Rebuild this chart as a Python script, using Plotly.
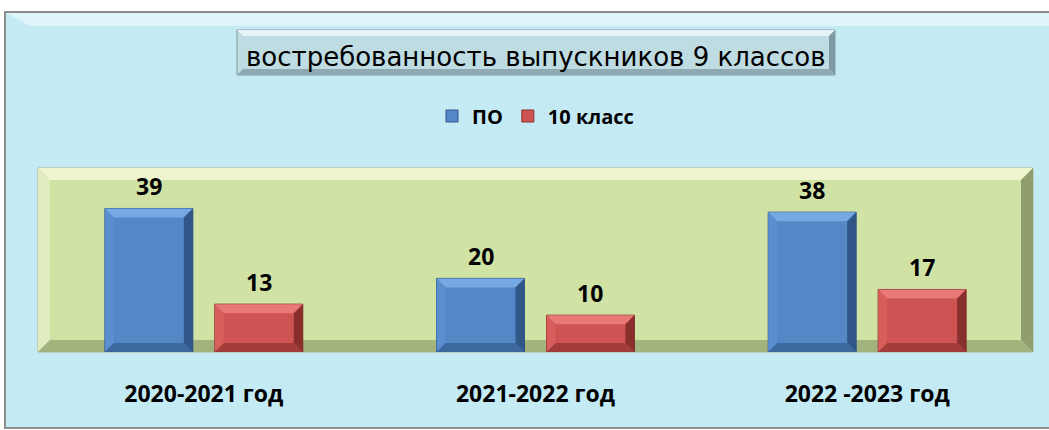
import plotly.graph_objects as go

categories = ["2020-2021 год", "2021-2022 год", "2022 -2023 год"]
series_names = ["ПО", "10 класс"]
po_values = [39, 20, 38]
class10_values = [13, 10, 17]
title_text = "востребованность выпускников 9 классов"

W, H = 1049, 430
L, R, T, B = 38, 16, 168, 78
PW, PH = W - L - R, H - T - B
YMAX = 50
BARGAP, GROUPGAP = 0.337, 0.2

def px(x):
    return (x - L) / PW

def py(y):
    return (H - B - y) / PH

fig = go.Figure()
fig.add_trace(go.Bar(name=series_names[0], x=categories, y=po_values,
                     marker=dict(color="#5487C6", line=dict(color="#2F5A8E", width=1))))
fig.add_trace(go.Bar(name=series_names[1], x=categories, y=class10_values,
                     marker=dict(color="#CD5452", line=dict(color="#8A2E2C", width=1))))

shapes = []
# outer background
shapes.append(dict(type="rect", xref="paper", yref="paper", layer="below",
                   x0=px(5), x1=px(1060), y0=py(428), y1=py(12),
                   fillcolor="#C4EAF4", line=dict(color="#8C8C8C", width=2)))
shapes.append(dict(type="path", xref="paper", yref="paper", layer="below",
                   path=f"M {px(6)},{py(13)} L {px(1060)},{py(13)} L {px(1060)},{py(26)} L {px(30)},{py(26)} Z",
                   fillcolor="#DDF4FA", line=dict(width=0)))
# green plot area
x0, x1, y0, y1 = 0, 1, 0, 1
shapes.append(dict(type="rect", xref="paper", yref="paper", layer="below",
                   x0=x0, x1=x1, y0=y0, y1=y1, fillcolor="#D1E2A5",
                   line=dict(color="#A9B98A", width=1)))
bx, by = 12 / PW, 12 / PH
shapes.append(dict(type="path", xref="paper", yref="paper", layer="below",
                   path=f"M {x0},{y1} L {x1},{y1} L {x1-bx},{y1-by} L {x0+bx},{y1-by} Z",
                   fillcolor="#EEF5CF", line=dict(width=0)))
shapes.append(dict(type="path", xref="paper", yref="paper", layer="below",
                   path=f"M {x0},{y0} L {x0},{y1} L {x0+bx},{y1-by} L {x0+bx},{y0+by} Z",
                   fillcolor="#E0ECBD", line=dict(width=0)))
shapes.append(dict(type="path", xref="paper", yref="paper", layer="below",
                   path=f"M {x1},{y0} L {x1},{y1} L {x1-bx},{y1-by} L {x1-bx},{y0+by} Z",
                   fillcolor="#8F9E6C", line=dict(width=0)))
shapes.append(dict(type="path", xref="paper", yref="paper", layer="below",
                   path=f"M {x0},{y0} L {x1},{y0} L {x1-bx},{y0+by} L {x0+bx},{y0+by} Z",
                   fillcolor="#A3B37E", line=dict(width=0)))
# title box
tx0, tx1, ty0, ty1 = px(237), px(835), py(75), py(30)
shapes.append(dict(type="rect", xref="paper", yref="paper", layer="below",
                   x0=tx0, x1=tx1, y0=ty0, y1=ty1, fillcolor="#BFDCE3",
                   line=dict(color="#7F9BA3", width=1)))
tbx, tby = 6 / PW, 6 / PH
shapes.append(dict(type="path", xref="paper", yref="paper", layer="below",
                   path=f"M {tx0},{ty1} L {tx1},{ty1} L {tx1-tbx},{ty1-tby} L {tx0+tbx},{ty1-tby} Z",
                   fillcolor="#E6F4F7", line=dict(width=0)))
shapes.append(dict(type="path", xref="paper", yref="paper", layer="below",
                   path=f"M {tx1},{ty0} L {tx1},{ty1} L {tx1-tbx},{ty1-tby} L {tx1-tbx},{ty0+tby} Z",
                   fillcolor="#7F9AA2", line=dict(width=0)))
shapes.append(dict(type="path", xref="paper", yref="paper", layer="below",
                   path=f"M {tx0},{ty0} L {tx1},{ty0} L {tx1-tbx},{ty0+tby} L {tx0+tbx},{ty0+tby} Z",
                   fillcolor="#8FAAB2", line=dict(width=0)))

# bevel overlays on bars, derived from the data and bar geometry
slot = (1 - BARGAP) / 2
hw = slot * (1 - GROUPGAP) / 2
bev_x = 9 / (PW / len(categories))
bev_y = 9 / (PH / YMAX)
bevel_colors = [
    ("#7DAEE8", "#5C8FCF", "#2C4F7C", "#3A6497"),
    ("#EC807E", "#D9605E", "#7C2A29", "#9A3A38"),
]
for (vals, sign), (ctop, cleft, cright, cbot) in zip(((po_values, -1), (class10_values, 1)), bevel_colors):
    for i, v in enumerate(vals):
        c = i + sign * slot / 2
        l, r = c - hw, c + hw
        t = v
        b = 0
        by_ = min(bev_y, v / 3)
        for pth, col in (
            (f"M {l},{t} L {r},{t} L {r-bev_x},{t-by_} L {l+bev_x},{t-by_} Z", ctop),
            (f"M {l},{b} L {l},{t} L {l+bev_x},{t-by_} L {l+bev_x},{b+by_} Z", cleft),
            (f"M {r},{b} L {r},{t} L {r-bev_x},{t-by_} L {r-bev_x},{b+by_} Z", cright),
            (f"M {l},{b} L {r},{b} L {r-bev_x},{b+by_} L {l+bev_x},{b+by_} Z", cbot),
        ):
            shapes.append(dict(type="path", xref="x", yref="y", layer="above",
                               path=pth, fillcolor=col, line=dict(width=0), opacity=0.85))

annotations = [dict(xref="paper", yref="paper", x=(tx0 + tx1) / 2, y=py(57),
                    text=title_text, showarrow=False, xanchor="center", yanchor="middle",
                    font=dict(family="DejaVu Sans", size=26, color="#000000"))]

for vals, sign in ((po_values, -1), (class10_values, 1)):
    for i, v in enumerate(vals):
        annotations.append(dict(x=i + sign * slot / 2, y=v, xref="x", yref="y", text=str(v),
                                showarrow=False, yshift=22, yanchor="middle",
                                font=dict(family="Open Sans", size=23, color="#000000", weight="bold")))

fig.update_layout(
    width=W, height=H,
    margin=dict(l=L, r=R, t=T, b=B, pad=0),
    paper_bgcolor="#FFFFFF",
    plot_bgcolor="rgba(0,0,0,0)",
    barmode="group", bargap=BARGAP, bargroupgap=GROUPGAP,
    showlegend=True,
    legend=dict(orientation="h", x=0.5, xanchor="center", y=py(116), yanchor="middle",
                font=dict(family="Open Sans", size=20, color="#000000", weight="bold"),
                bgcolor="rgba(0,0,0,0)", itemwidth=30, traceorder="normal"),
    shapes=shapes,
    annotations=annotations,
    xaxis=dict(showgrid=False, showline=False, ticks="", zeroline=False,
               tickfont=dict(family="Open Sans", size=23, color="#000000", weight="bold"),
               ticklabelstandoff=26),
    yaxis=dict(range=[0, YMAX], visible=False, showgrid=False, zeroline=False),
)

fig.write_html("out.html", config={"displayModeBar": False},
               post_script="document.body.style.margin='0';")
